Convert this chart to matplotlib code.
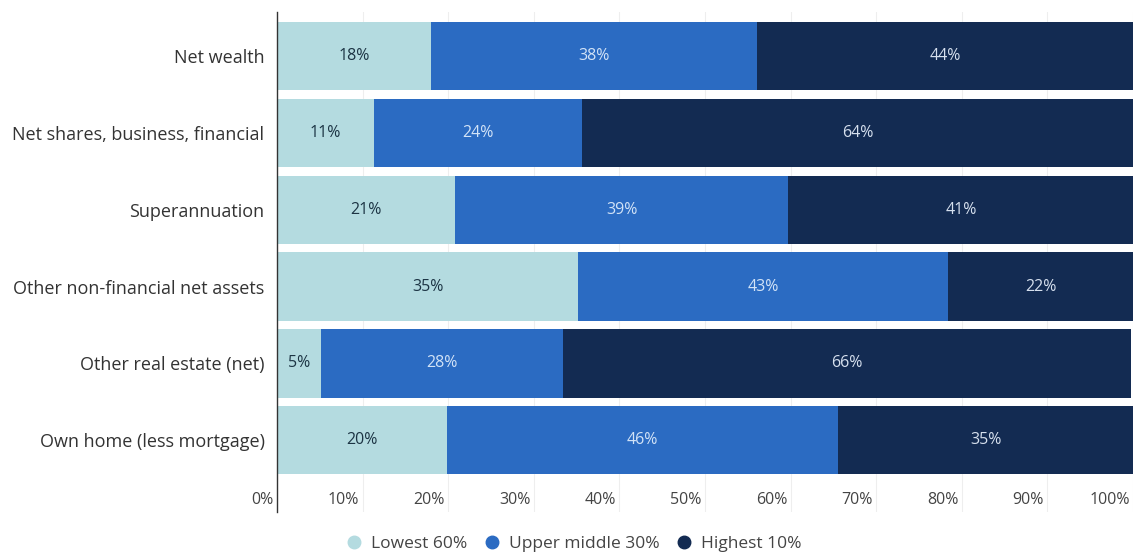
import matplotlib
matplotlib.use("Agg")
import matplotlib.pyplot as plt
import matplotlib.transforms as mtransforms
from matplotlib.lines import Line2D
import numpy as np

plt.rcParams['font.family'] = ['Open Sans', 'DejaVu Sans']

categories = ["Net wealth", "Net shares, business, financial", "Superannuation",
              "Other non-financial net assets", "Other real estate (net)",
              "Own home (less mortgage)"]
lowest_60 = [18.0, 11.3, 20.8, 35.2, 5.1, 19.9]
upper_middle_30 = [38.1, 24.3, 38.9, 43.2, 28.3, 45.6]
highest_10 = [43.9, 64.4, 40.6, 21.6, 66.4, 34.6]
series_names = ["Lowest 60%", "Upper middle 30%", "Highest 10%"]
tick_values = [0, 10, 20, 30, 40, 50, 60, 70, 80, 90, 100]

colors = ["#b4dbe0", "#2b6bc2", "#132b52"]
text_colors = ["#1c3444", "#d2e3f7", "#d6e0ee"]

fig = plt.figure(figsize=(11.33, 5.57), dpi=100)
ax = fig.add_axes([277/1133, 1 - 512/557, (1133 - 277)/1133, (512 - 12)/557])

n = len(categories)
y = np.arange(n)
series = [lowest_60, upper_middle_30, highest_10]
left = np.zeros(n)
for vals, c, tc, name in zip(series, colors, text_colors, series_names):
    vals = np.array(vals)
    ax.barh(y, vals, left=left, height=0.89, color=c, label=name, zorder=2)
    for yi, l, v in zip(y, left, vals):
        ax.text(l + v / 2, yi, f"{v:.0f}%", ha="center", va="center",
                color=tc, fontsize=11.5, zorder=3)
    left = left + vals

slot = (475 - 22) / n
top = -0.5 - (22 - 12) / slot + 0.055
bottom = n - 0.5 + (512 - 475) / slot - 0.055
ax.set_ylim(bottom, top)
ax.set_xlim(0, 100)

ax.set_yticks(y)
ax.set_yticklabels(categories, fontsize=13, color="#333333")
ax.tick_params(axis="y", length=0, pad=9)

ax.set_xticks(tick_values)
ax.set_xticklabels([])
ax.tick_params(axis="x", length=0)
tick_tr = mtransforms.blended_transform_factory(ax.transData, fig.transFigure)
for tv in tick_values:
    ax.text(tv - 0.4, 1 - 500/557, f"{tv}%", transform=tick_tr,
            ha="right", va="center", fontsize=11.5, color="#444444")
ax.grid(axis="x", color="#eeeeee", linewidth=0.8, zorder=0)

for s in ["top", "right", "bottom"]:
    ax.spines[s].set_visible(False)
ax.spines["left"].set_color("#333333")
ax.spines["left"].set_linewidth(1.0)

handles = [Line2D([0], [0], marker="o", linestyle="", markersize=9,
                  markerfacecolor=c, markeredgecolor=c) for c in colors]
fig.legend(handles, series_names, loc="center", bbox_to_anchor=(569/1133, 1 - 544/557),
           ncol=3, frameon=False, fontsize=12.5, handletextpad=0.0, columnspacing=0.4,
           labelcolor="#444444")

fig.savefig("out.png", dpi=100)
